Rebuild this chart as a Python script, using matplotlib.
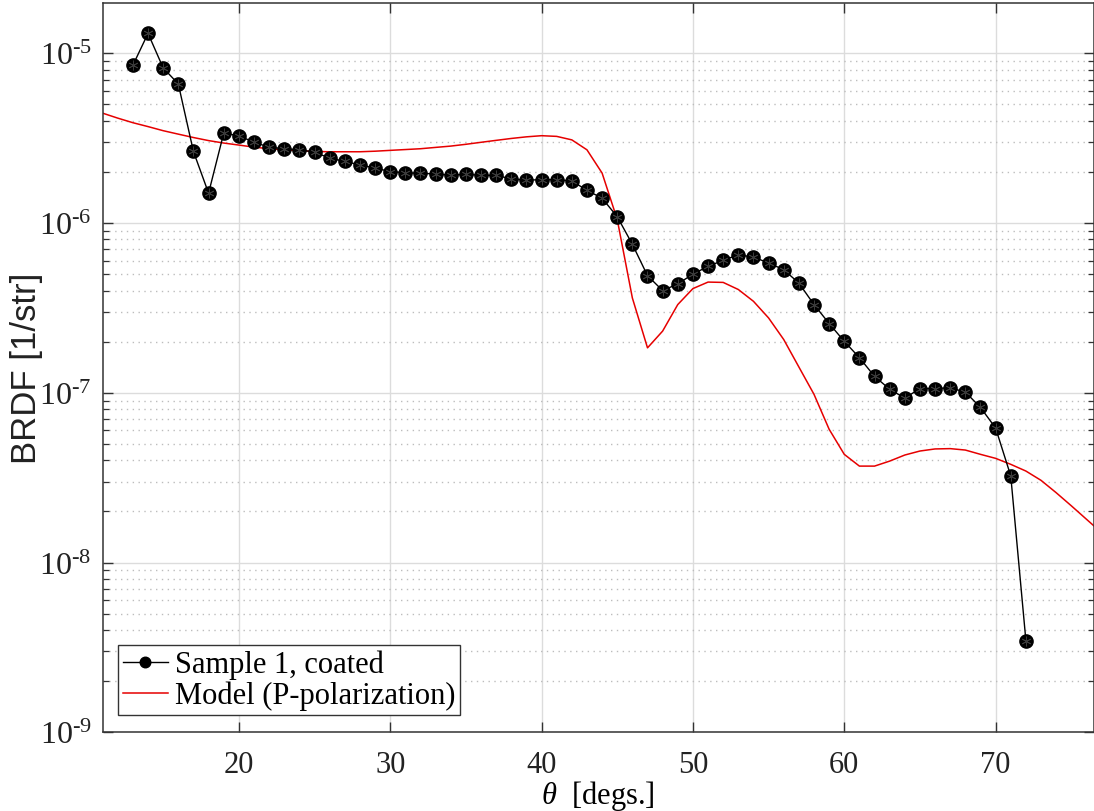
import matplotlib
matplotlib.use("Agg")
import matplotlib.pyplot as plt
from matplotlib.ticker import LogLocator, NullFormatter, FixedLocator, FuncFormatter
import numpy as np

# measured data, sample 1 (coated), one point per degree
theta_meas = list(range(13, 73))
brdf_meas = [8.5e-6, 1.31e-5, 8.2e-6, 6.6e-6, 2.64e-6, 1.50e-6, 3.38e-6, 3.27e-6,
             2.99e-6, 2.80e-6, 2.74e-6, 2.70e-6, 2.62e-6, 2.41e-6, 2.31e-6, 2.20e-6,
             2.11e-6, 2.01e-6, 1.98e-6, 1.96e-6, 1.95e-6, 1.91e-6, 1.94e-6, 1.91e-6,
             1.91e-6, 1.82e-6, 1.79e-6, 1.80e-6, 1.80e-6, 1.77e-6, 1.56e-6, 1.40e-6,
             1.09e-6, 7.5e-7, 4.9e-7, 4.0e-7, 4.38e-7, 5.0e-7, 5.56e-7, 6.03e-7,
             6.5e-7, 6.3e-7, 5.82e-7, 5.31e-7, 4.43e-7, 3.31e-7, 2.56e-7, 2.01e-7,
             1.61e-7, 1.25e-7, 1.05e-7, 9.3e-8, 1.06e-7, 1.06e-7, 1.07e-7, 1.01e-7,
             8.2e-8, 6.2e-8, 3.24e-8, 3.47e-9]

# model curve (P-polarization)
theta_model = list(range(10, 78))
brdf_model = [4.8e-6, 4.44e-6, 4.15e-6, 3.90e-6, 3.70e-6, 3.50e-6, 3.34e-6, 3.19e-6,
              3.06e-6, 2.96e-6, 2.88e-6, 2.80e-6, 2.74e-6, 2.70e-6, 2.67e-6, 2.64e-6,
              2.63e-6, 2.63e-6, 2.63e-6, 2.65e-6, 2.68e-6, 2.71e-6, 2.74e-6, 2.79e-6,
              2.84e-6, 2.91e-6, 2.99e-6, 3.07e-6, 3.15e-6, 3.22e-6, 3.27e-6, 3.24e-6,
              3.09e-6, 2.70e-6, 1.97e-6, 1.05e-6, 3.62e-7, 1.84e-7, 2.31e-7, 3.31e-7,
              4.11e-7, 4.49e-7, 4.47e-7, 4.06e-7, 3.46e-7, 2.76e-7, 2.06e-7, 1.42e-7,
              9.8e-8, 6.1e-8, 4.34e-8, 3.70e-8, 3.70e-8, 3.96e-8, 4.30e-8, 4.54e-8,
              4.67e-8, 4.69e-8, 4.60e-8, 4.34e-8, 4.11e-8, 3.79e-8, 3.46e-8, 3.05e-8,
              2.58e-8, 2.16e-8, 1.80e-8, 1.50e-8]

x_ticks = [20, 30, 40, 50, 60, 70]
y_ticks = [1e-9, 1e-8, 1e-7, 1e-6, 1e-5]

plt.rcParams['font.family'] = ['Liberation Serif', 'DejaVu Serif']
plt.rcParams['mathtext.fontset'] = 'custom'
plt.rcParams['mathtext.rm'] = 'Liberation Serif'
plt.rcParams['mathtext.it'] = 'Liberation Serif:italic'

fig = plt.figure(figsize=(10.94, 8.12), dpi=100)
ax = fig.add_axes([0.0938, 0.0969, 0.9062, 0.8978])

ax.plot(theta_meas, brdf_meas, '-o', color='black', lw=1.0, ms=9.5,
        mfc='black', mec='black', label='Sample 1, coated', zorder=3)
# faint asterisk inside the dots like the original
ax.plot(theta_meas, brdf_meas, ls='none', marker=(6, 2, 0), color='#3a3a3a',
        ms=7, mew=0.6, zorder=4)
ax.plot(theta_model, brdf_model, '-', color='#e60000', lw=1.1,
        label='Model (P-polarization)', zorder=2)

ax.set_yscale('log')
ax.set_xlim(11, 76.5)
ax.set_ylim(1e-9, 1.97e-5)
ax.xaxis.set_major_locator(FixedLocator(x_ticks))
ax.yaxis.set_major_locator(FixedLocator(y_ticks))
ax.yaxis.set_major_formatter(FuncFormatter(
    lambda v, p: r'$10^{\text{%d}}$' % int(round(np.log10(v)))))
ax.yaxis.set_minor_locator(LogLocator(base=10, subs=np.arange(2, 10), numticks=20))
ax.yaxis.set_minor_formatter(NullFormatter())

ax.grid(True, which='major', color='#dcdcdc', lw=1.0, zorder=0)
ax.grid(True, which='minor', axis='y', color='#bdbdbd', lw=1.0,
        linestyle=(0, (1, 3.2)), zorder=0)
ax.set_axisbelow(True)

for s in ax.spines.values():
    s.set_color('#333333')
    s.set_linewidth(1.1)
ax.tick_params(which='both', direction='in', top=True, right=True,
               colors='#333333', labelcolor='#222222')
ax.tick_params(which='major', length=7.5, width=1.0, labelsize=22)
ax.tick_params(which='minor', length=4, width=0.9)
ax.tick_params(axis='x', pad=13)
ax.tick_params(axis='y', pad=8, labelsize=23)

ax.set_xlabel(r'$\theta$  [degs.]', fontsize=22)
ax.xaxis.set_label_coords(0.5, -0.062)
ax.set_ylabel('BRDF [1/str]', fontsize=25,
              family=['Liberation Sans Narrow', 'Liberation Sans', 'DejaVu Sans'],
              color='#222222')
ax.yaxis.set_label_coords(-0.06, 0.5)

leg = ax.legend(loc='lower left', bbox_to_anchor=(0.0155, 0.0237), borderaxespad=0,
                fontsize=22, frameon=True, fancybox=False, framealpha=1,
                handlelength=1.5, handletextpad=0.2, borderpad=0.15,
                labelspacing=0.05, markerscale=0.8)
leg.get_frame().set_edgecolor('#333333')
leg.get_frame().set_linewidth(1.0)

fig.savefig('out.png', dpi=100)
